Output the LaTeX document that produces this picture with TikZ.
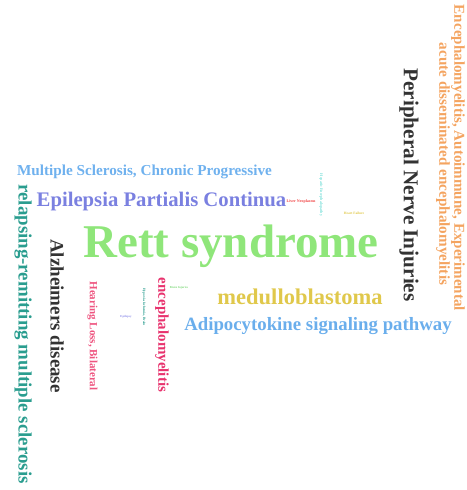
\documentclass[tikz,border=0pt]{standalone}
\usepackage{fontspec}
\setmainfont{Liberation Serif}
\definecolor{corange}{HTML}{F4A460}
\definecolor{cdark}{HTML}{333333}
\definecolor{cskyblue}{HTML}{6FB1EE}
\definecolor{cpurple}{HTML}{7A80E0}
\definecolor{cgreen}{HTML}{8FE67A}
\definecolor{cteal}{HTML}{2A9D8F}
\definecolor{cpink}{HTML}{EE5580}
\definecolor{ccrimson}{HTML}{E8336E}
\definecolor{cyellow}{HTML}{E0C84B}
\definecolor{cblue}{HTML}{6AAEEC}
\definecolor{ccyan}{HTML}{7FE0DA}
\definecolor{cred}{HTML}{F04040}
\definecolor{clgreen}{HTML}{7ED87A}
\definecolor{clpurple}{HTML}{8A8AE8}
\tikzset{
  word/.style={inner sep=0pt, font=\bfseries},
  vword/.style={word, rotate=-90},
}
\newcommand{\fs}[1]{\fontsize{#1}{#1}\selectfont}
\begin{document}
\begin{tikzpicture}[x=1pt,y=-1pt]
\useasboundingbox (0,0) rectangle (466,490);
\node[vword, text=corange] (w1) at (458,158) {\fs{15.1}Encephalomyelitis, Autoimmune, Experimental};
\node[vword, text=corange] (w2) at (443,164) {\fs{15.2}acute disseminated encephalomyelitis};
\node[vword, text=cdark] (w3) at (409,185) {\fs{21.2}Peripheral Nerve Injuries};
\node[word, text=cskyblue] (w4) at (144.5,172) {\fs{15.2}Multiple Sclerosis, Chronic Progressive};
\node[word, text=cpurple] (w5) at (161.5,202) {\fs{20.7}Epilepsia Partialis Continua};
\node[word, text=cred] (w6) at (301,202) {\fs{4}Liver Neoplasms};
\node[vword, text=ccyan] (w7) at (321,195) {\fs{4}Hepatic Encephalopathy};
\node[word, text=cyellow] (w8) at (354,213) {\fs{3.5}Heart Failure};
\node[vword, text=cteal] (w9) at (23,334) {\fs{18.9}relapsing-remitting multiple sclerosis};
\node[vword, text=cdark] (w10) at (57,316) {\fs{19}Alzheimers disease};
\node[word, text=cgreen] (w11) at (231,246) {\fs{47}Rett syndrome};
\node[vword, text=cpink] (w12) at (92.5,336) {\fs{11}Hearing Loss, Bilateral};
\node[vword, text=ccrimson] (w13) at (162,335) {\fs{15}encephalomyelitis};
\node[vword, text=cteal] (w14) at (144,307) {\fs{3.5}Hypoxia-Ischemia, Brain};
\node[word, text=clpurple] (w15) at (126,317) {\fs{3}Epilepsy};
\node[word, text=clgreen] (w16) at (179,288) {\fs{3}Brain Injuries};
\node[word, text=cyellow] (w17) at (300,297) {\fs{22.5}medulloblastoma};
\node[word, text=cblue] (w18) at (318,326) {\fs{18.8}Adipocytokine signaling pathway};
\end{tikzpicture}
\end{document}
